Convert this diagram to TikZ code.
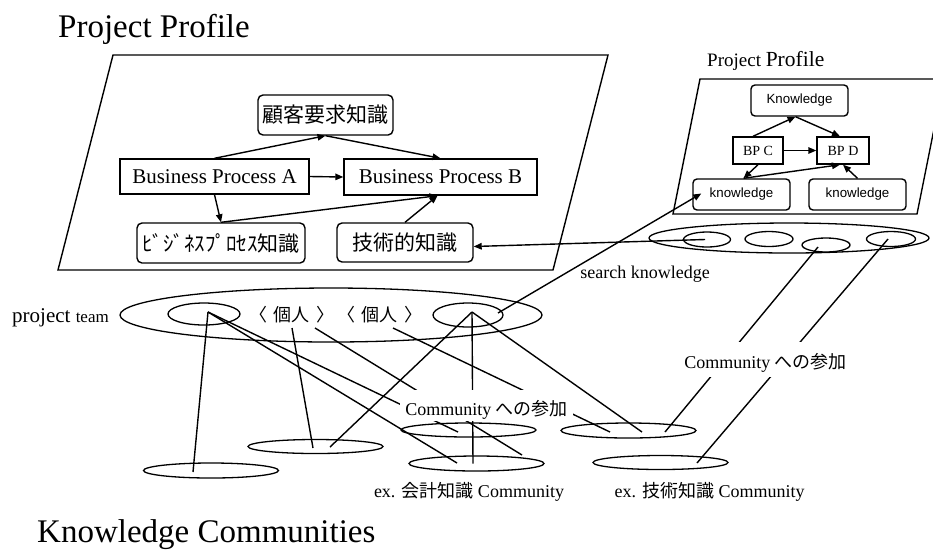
\documentclass[tikz,border=0pt]{standalone}
\usepackage{fontspec}
\setmainfont{Liberation Serif}
\newfontfamily\jp{Noto Sans CJK JP}
\newfontfamily\arial{Liberation Sans}
\usetikzlibrary{arrows.meta,shapes.geometric,calc}
\newcommand\fs[1]{\fontsize{#1}{#1}\selectfont}

\begin{document}
\begin{tikzpicture}[x=1pt,y=-1pt,
  ln/.style={line width=1.4pt},
  arr/.style={ln,-{Triangle[length=8pt,width=6.5pt]}},
  pbox/.style={draw,line width=1.4pt,inner sep=0pt},
  kbox/.style={draw,line width=1.4pt,inner sep=0pt,rounded corners=5pt},
  oval/.style={draw,ellipse,line width=1.3pt,inner sep=0pt},
  lbl/.style={fill=white,inner xsep=5pt,inner ysep=0pt,anchor=base},
  txt/.style={inner sep=0pt,anchor=base}]
\useasboundingbox (0,0) rectangle (933,550);
\clip (0,0) rectangle (933,550);

% ---- titles ----
\node[txt,anchor=base west] (t1) at (58,37) {\fs{33}Project Profile};
\node[txt,anchor=base west] (t2) at (707,66) {\fs{19}Project \fs{21.5}Profile};
\node[txt,anchor=base west] (t3) at (37,542) {\fs{33}Knowledge Communities};

% ---- profile planes ----
\draw[ln] (58,270) -- (553,270) -- (608,55) -- (113,55) -- cycle;
\draw[ln] (673,214) -- (917,214) -- (944,79) -- (700,79) -- cycle;

% ---- main project profile ----
\node[kbox,minimum width=135pt,minimum height=40pt] (kk) at (325.5,115) {\jp\fs{21}顧客要求知識};
\node[pbox,minimum width=189pt,minimum height=35pt] (bpa) at (214.5,176.5) {\fs{21}Business Process A};
\node[pbox,minimum width=193pt,minimum height=36pt] (bpb) at (440.5,177) {\fs{21}Business Process B};
\node[kbox,minimum width=168pt,minimum height=40pt] (bk) at (221,243) {\jp\fs{21}ﾋﾞｼﾞﾈｽﾌﾟﾛｾｽ知識};
\node[kbox,minimum width=136pt,minimum height=39pt] (tk) at (405,242.5) {\jp\fs{21}技術的知識};

\draw[arr] (bpa.north) -- (kk.south);
\draw[arr] (kk.south) -- (bpb.north);
\draw[arr] (bpa.east) -- (bpb.west);
\draw[arr] (bpa.south) -- (bk.north);
\draw[arr] (bk.north) -- ($(bpb.south)+(-3,0)$);
\draw[arr] (tk.north) -- ($(bpb.south)+(-3,0)$);

% ---- second project profile ----
\node[kbox,rounded corners=4pt,minimum width=97pt,minimum height=31pt] (kn) at (799.5,100.5) {\arial\fs{13.3}Knowledge};
\node[pbox,minimum width=50pt,minimum height=27pt] (bpc) at (758,150.5) {\fs{14}BP C};
\node[pbox,minimum width=52pt,minimum height=27pt] (bpd) at (843,150.5) {\fs{14}BP D};
\node[kbox,rounded corners=4pt,minimum width=97pt,minimum height=31pt] (kl) at (741.5,194.5) {\arial\fs{13.3}knowledge};
\node[kbox,rounded corners=4pt,minimum width=97pt,minimum height=31pt] (kr) at (857.5,194.5) {\arial\fs{13.3}knowledge};

\draw[arr] ($(bpc.north)+(-5,0)$) -- ($(kn.south)+(-4,0)$);
\draw[arr] ($(kn.south)+(-4,0)$) -- ($(bpd.north)+(-3,0)$);
\draw[arr] (bpc.east) -- (bpd.west);
\draw[arr] (bpc.south) -- ($(kl.north)+(2,0)$);
\draw[arr] ($(kl.north)+(2,0)$) -- ($(bpd.south)+(-3,0)$);
\draw[arr] (kr.north) -- (bpd.south);

% ---- community members of the second project ----
\node[oval,minimum width=280pt,minimum height=30pt] (cg) at (789,238) {};
\node[oval,minimum width=47pt,minimum height=15pt] (c1) at (707,239.5) {};
\node[oval,minimum width=48pt,minimum height=15pt] (c2) at (769,239) {};
\node[oval,minimum width=48pt,minimum height=14pt] (c3) at (826,245) {};
\node[oval,minimum width=49pt,minimum height=15pt] (c4) at (891,239) {};

% ---- project team ----
\node[oval,minimum width=422pt,minimum height=54pt] (team) at (331,315) {};
\node[oval,minimum width=72pt,minimum height=22pt] (s1) at (204,314) {};
\node[oval,minimum width=70pt,minimum height=24pt] (s2) at (468,315) {};
\node[inner sep=0pt] (p1) at (292,315) {\jp\fs{18}〈\hspace{7pt}個人\hspace{7pt}〉};
\node[inner sep=0pt] (p2) at (380,315) {\jp\fs{18}〈\hspace{7pt}個人\hspace{7pt}〉};
\node[txt,anchor=base west] (pt) at (12,322) {\fs{21}project \fs{17}team};

% ---- knowledge communities ----
\node[oval,minimum width=135pt,minimum height=15pt] (e1) at (211,470.5) {};
\node[oval,minimum width=135pt,minimum height=14pt] (e2) at (315.5,446.5) {};
\node[oval,minimum width=135pt,minimum height=14pt] (e3) at (468.5,430) {};
\node[oval,minimum width=135pt,minimum height=15pt] (e4) at (476.5,463.5) {};
\node[oval,minimum width=135pt,minimum height=15pt] (e5) at (628.5,430.5) {};
\node[oval,minimum width=135pt,minimum height=14pt] (e6) at (660.5,462.5) {};

% anchor points inside the ovals
\coordinate (a1) at ($(s1.center)+(4,-2)$);
\coordinate (a2) at ($(s2.center)+(4,-3)$);
\coordinate (a3) at ($(s2.center)+(30,-2)$);
\coordinate (q1) at ($(p1.center)+(0,13)$);
\coordinate (q2) at ($(p1.center)+(23,13)$);
\coordinate (q3) at ($(p2.center)+(13,13)$);

% search for knowledge
\draw[arr] ($(c1.center)+(-2,0)$) -- ($(tk.east)+(0,4)$);
\draw[arr] (a3) -- ($(kl.west)+(9,-1)$);

% participation in communities
\draw[ln] ($(c3.center)+(-8,2)$) -- ($(e5.center)+(36.5,1.5)$);
\draw[ln] ($(c4.center)+(-3,0)$) -- ($(e6.center)+(36.5,0.5)$);
\draw[ln] (a1) -- ($(e1.center)+(-18,1.5)$);
\draw[ln] (a1) -- ($(e3.center)+(-10.5,2)$);
\draw[ln] (a1) -- ($(e4.center)+(-19.5,-0.5)$);
\draw[ln] (q1) -- ($(e2.center)+(-2.5,1.5)$);
\draw[ln] (q2) -- ($(e4.center)+(45.5,-8.5)$);
\draw[ln] (q3) -- ($(e5.center)+(-18.5,1.5)$);
\draw[ln] (a2) -- ($(e2.center)+(14.5,0.5)$);
\draw[ln] (a2) -- ($(e4.center)+(-3.5,0)$);
\draw[ln] (a2) -- ($(e5.center)+(13.5,1.5)$);

% ---- labels ----
\node[lbl,text height=25pt,text depth=6pt] (l1) at (486.5,415) {\fs{18}Community {\jp への参加}};
\node[lbl,text height=26pt,text depth=9pt] (l2) at (765.5,368) {\fs{18}Community {\jp への参加}};
\node[txt] (l3) at (645,278) {\fs{18}search knowledge};
\node[txt] (l4) at (469,497) {\fs{18}ex. {\jp 会計知識} Community};
\node[txt] (l5) at (709.5,497) {\fs{18}ex. {\jp 技術知識} Community};
\end{tikzpicture}
\end{document}
